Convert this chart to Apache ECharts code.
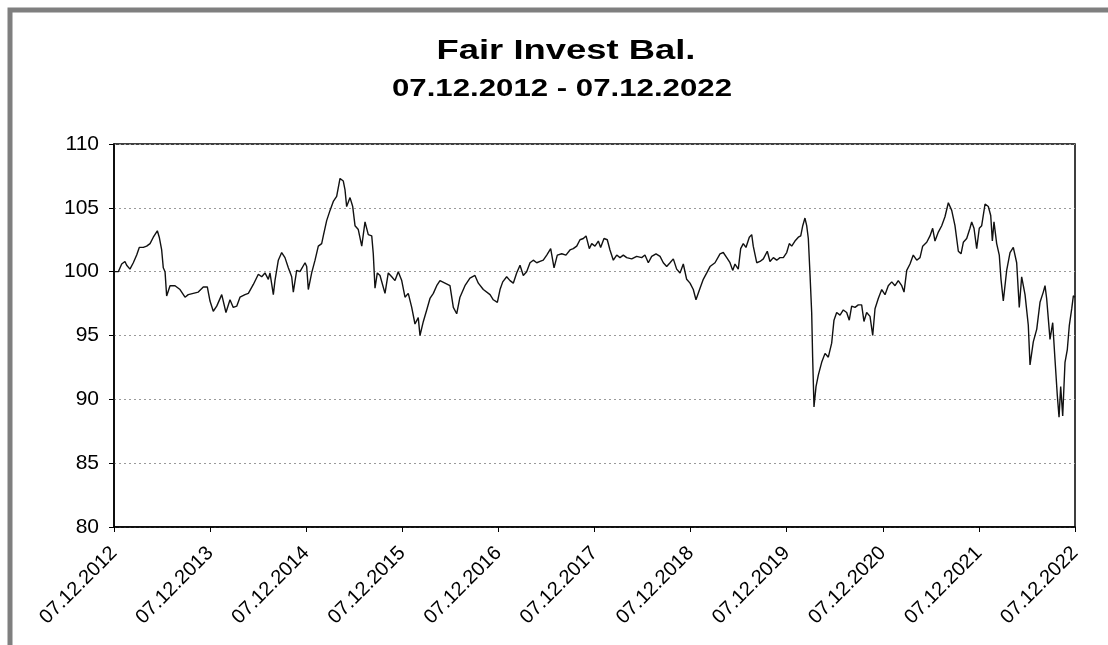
<!DOCTYPE html>
<html>
<head>
<meta charset="utf-8">
<script src="https://cdn.jsdelivr.net/npm/echarts@6/dist/echarts.min.js"></script>
<style>
html,body{margin:0;padding:0;background:#fff;}
#chart{width:1108px;height:645px;}
</style>
</head>
<body>
<div id="chart"></div>
<script>
// Years since 07.12.2012
var yearsSinceStart = [
0,0.045,0.080,0.114,0.132,0.166,0.201,0.236,0.263,0.305,0.340,0.375,0.409,0.451,0.471,0.496,0.513,0.531,0.548,0.583,
0.635,0.687,0.739,0.773,0.825,0.877,0.929,0.971,0.999,1.033,1.069,1.121,1.165,1.207,1.241,1.277,1.311,1.363,1.398,1.450,
1.502,1.537,1.571,1.606,1.623,1.658,1.675,1.710,1.745,1.779,1.814,1.849,1.866,1.901,1.935,
1.953,1.988,2.005,2.022,2.057,2.092,2.126,2.161,2.178,2.213,2.248,2.282,2.317,2.352,2.386,2.404,2.421,2.456,2.484,2.508,
2.542,2.578,2.612,2.646,2.682,2.698,2.716,2.740,2.768,2.820,2.854,2.890,2.924,2.958,2.994,3.028,3.062,3.098,3.132,3.166,
3.184,3.219,3.254,3.288,3.323,3.358,3.392,3.444,3.496,3.531,3.566,3.600,3.652,3.704,3.756,3.791,3.843,
3.913,3.947,3.989,4.017,4.045,4.086,4.121,4.155,4.190,4.225,4.259,4.294,4.329,4.363,4.399,4.433,4.467,4.503,4.544,4.579,
4.613,4.659,4.703,4.745,4.779,4.815,4.849,4.884,4.912,4.946,4.971,5.005,5.040,5.064,5.099,5.133,5.161,5.196,5.231,5.265,
5.300,5.335,5.387,5.439,5.491,5.525,5.560,5.595,5.640,5.682,5.716,5.751,5.786,
5.820,5.855,5.890,5.924,5.959,5.994,6.028,6.056,6.098,6.132,6.168,6.202,6.254,6.306,6.340,6.376,6.410,6.438,6.462,6.496,
6.521,6.548,6.576,6.611,6.636,6.652,6.688,6.722,6.757,6.798,6.826,6.861,6.896,6.930,6.965,7.000,7.027,7.052,7.086,7.121,
7.146,7.167,7.190,7.208,7.225,7.242,7.260,7.270,7.284,7.305,7.329,7.364,7.399,7.433,7.468,7.492,7.520,7.555,7.589,7.624,
7.651,7.676,7.711,7.745,7.780,7.804,7.832,7.867,
7.895,7.919,7.953,7.989,8.023,8.057,8.093,8.127,8.161,8.197,8.221,8.249,8.283,8.317,8.353,8.387,8.415,8.457,8.491,8.519,
8.543,8.578,8.613,8.647,8.682,8.717,8.751,8.786,8.814,8.838,8.873,8.907,8.925,8.949,8.977,9.004,9.029,9.064,9.098,9.123,
9.140,9.157,9.185,9.212,9.230,9.254,9.289,9.324,9.358,9.393,9.420,9.445,9.480,9.514,9.532,9.566,9.602,9.636,9.670,9.688,
9.705,9.740,9.768,9.792,9.816,9.834,9.851,9.872,9.896,9.920,9.941,9.966,9.983,10
];
var fundValues = [
100.0,100.0,100.6,100.8,100.5,100.2,100.7,101.3,101.9,101.9,102.0,102.2,102.7,103.2,102.7,101.7,100.3,100.0,98.1,98.9,
98.9,98.6,98.0,98.2,98.3,98.4,98.8,98.8,97.7,96.9,97.3,98.2,96.8,97.8,97.2,97.3,98.0,98.2,98.3,99.0,
99.8,99.6,99.9,99.4,99.9,98.2,99.3,100.9,101.5,101.1,100.3,99.6,98.4,100.1,100.0,
100.0,100.7,100.4,98.6,99.9,100.9,102.0,102.2,102.8,104.0,104.8,105.5,105.9,107.3,107.1,106.4,105.1,105.8,105.1,103.6,
103.3,102.0,103.9,102.9,102.8,101.4,98.7,99.9,99.7,98.3,99.9,99.6,99.3,100.0,99.3,98.0,98.3,97.2,95.9,96.4,
95.0,96.1,97.0,97.9,98.3,98.9,99.3,99.1,98.9,97.2,96.7,98.0,98.9,99.5,99.7,99.1,98.6,
98.2,97.8,97.6,98.6,99.2,99.6,99.3,99.1,99.9,100.5,99.7,100.0,100.7,100.9,100.7,100.8,100.9,101.3,101.8,100.3,
101.3,101.4,101.3,101.7,101.8,102.0,102.5,102.6,102.8,101.8,102.2,102.0,102.4,101.9,102.6,102.5,101.7,100.9,101.3,101.1,
101.3,101.1,101.0,101.2,101.1,101.3,100.7,101.2,101.4,101.2,100.7,100.4,100.7,
101.0,100.2,99.9,100.6,99.4,99.1,98.6,97.8,98.7,99.4,99.9,100.4,100.7,101.4,101.5,101.1,100.7,100.1,100.6,100.2,
101.8,102.2,101.9,102.7,102.9,102.0,100.7,100.8,101.0,101.6,100.8,101.1,100.9,101.1,101.1,101.5,102.2,102.0,102.4,102.7,
102.8,103.6,104.2,103.6,102.6,99.9,96.8,93.3,89.4,91.0,91.9,92.9,93.6,93.3,94.4,96.2,96.8,96.6,97.0,96.8,
96.2,97.3,97.2,97.4,97.4,96.1,96.8,96.5,
95.0,97.1,97.9,98.6,98.2,98.9,99.2,98.9,99.3,98.9,98.4,100.1,100.6,101.3,100.9,101.1,102.0,102.3,102.8,103.4,
102.4,103.1,103.6,104.3,105.4,104.8,103.6,101.6,101.4,102.3,102.6,103.4,103.9,103.4,101.8,103.4,103.6,105.3,105.1,104.4,
102.4,103.9,102.2,101.3,99.4,97.7,100.1,101.5,101.9,100.7,97.2,99.6,98.2,95.8,92.7,94.5,95.5,97.6,98.4,98.9,
97.9,94.7,96.0,93.1,90.3,88.6,91.0,88.7,92.9,93.9,95.8,97.1,98.1,98.0
];
var xTickLabels = ['07.12.2012','07.12.2013','07.12.2014','07.12.2015','07.12.2016','07.12.2017',
                   '07.12.2018','07.12.2019','07.12.2020','07.12.2021','07.12.2022'];
var titleText = 'Fair Invest Bal.';
var subtitleText = '07.12.2012 - 07.12.2022';

var seriesData = yearsSinceStart.map(function (t, i) { return [t, fundValues[i]]; });

var chart = echarts.init(document.getElementById('chart'), null, {renderer: 'canvas'});
var FONT = '"Liberation Sans", Arial, sans-serif';
chart.setOption({
  animation: false,
  backgroundColor: '#fff',
  graphic: [
    {type: 'rect', z: -10, silent: true,
     shape: {x: 10, y: 10, width: 1300, height: 900},
     style: {fill: 'none', stroke: '#7f7f7f', lineWidth: 5}},
    {type: 'text', x: 566, y: 51, scaleX: 1.3, silent: true,
     style: {text: titleText, font: 'bold 28px ' + FONT, fill: '#000',
             textAlign: 'center', textVerticalAlign: 'middle'}},
    {type: 'text', x: 562, y: 89, scaleX: 1.3, silent: true,
     style: {text: subtitleText, font: 'bold 24px ' + FONT, fill: '#000',
             textAlign: 'center', textVerticalAlign: 'middle'}}
  ],
  grid: {left: 114, right: 33, top: 144, bottom: 118, show: true,
         borderColor: '#000', borderWidth: 1.5, backgroundColor: 'transparent'},
  xAxis: {
    type: 'value', min: 0, max: 10, interval: 1,
    axisLine: {show: true, lineStyle: {color: '#000', width: 1.5}},
    axisTick: {show: true, length: 5, lineStyle: {color: '#000'}},
    splitLine: {show: false},
    axisLabel: {
      rotate: 45, margin: 23, fontSize: 20, fontFamily: FONT, color: '#000',
      formatter: function (v) { return xTickLabels[Math.round(v)] || ''; }
    }
  },
  yAxis: {
    type: 'value', min: 80, max: 110, interval: 5,
    axisLine: {show: true, lineStyle: {color: '#000', width: 1.5}},
    axisTick: {show: true, length: 5, lineStyle: {color: '#000'}},
    splitLine: {show: true, lineStyle: {color: '#9a9a9a', width: 1, type: [2, 3]}},
    axisLabel: {margin: 15, fontSize: 21, fontFamily: FONT, color: '#000'}
  },
  series: [{
    type: 'line', data: seriesData, showSymbol: false, smooth: false,
    lineStyle: {color: '#111', width: 1.4}
  }]
});
</script>
</body>
</html>
